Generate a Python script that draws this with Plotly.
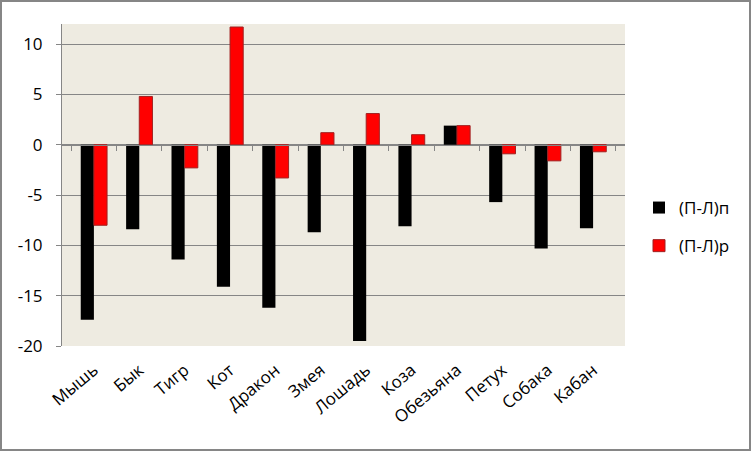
import plotly.graph_objects as go

categories = ["Мышь", "Бык", "Тигр", "Кот", "Дракон", "Змея", "Лошадь",
              "Коза", "Обезьяна", "Петух", "Собака", "Кабан"]
series_p = [-17.4, -8.4, -11.4, -14.1, -16.2, -8.7, -19.5, -8.1, 1.9, -5.7, -10.3, -8.3]
series_r = [-8.0, 4.8, -2.3, 11.7, -3.3, 1.2, 3.1, 1.0, 1.9, -0.9, -1.6, -0.7]
name_p = "(П-Л)п"
name_r = "(П-Л)р"
y_ticks = [-20, -15, -10, -5, 0, 5, 10]
y_ticktext = ["-20", "-15", "-10", "-5", "0", "5", "10"]

W, H = 752, 452
ml, mr, mt, mb = 62, 127, 24, 106
pw, ph = W - ml - mr, H - mt - mb
ymin, ymax = -20, 12

font = "Open Sans, DejaVu Sans, sans-serif"

fig = go.Figure()
fig.add_trace(go.Bar(x=categories, y=series_p, name=name_p, legendgroup="p",
                     marker=dict(color="#000000", line=dict(width=0))))
fig.add_trace(go.Bar(x=categories, y=series_r, name=name_r, legendgroup="r",
                     marker=dict(color="#FF0000", line=dict(color="#A02020", width=1))))
# invisible trace to render the category tick axis at y=0
fig.add_trace(go.Scatter(x=categories, y=[0]*len(categories), xaxis="x2",
                         mode="markers", marker=dict(opacity=0), showlegend=False,
                         hoverinfo="skip"))

fig.update_layout(
    width=W, height=H,
    margin=dict(l=ml, r=mr, t=mt, b=mb, autoexpand=False),
    paper_bgcolor="white",
    plot_bgcolor="#EEEBE1",
    barmode="group",
    bargap=0.42,
    bargroupgap=0,
    font=dict(family=font, size=16, color="#000000"),
    showlegend=True,
    legend=dict(x=(639 - ml) / pw, y=(H - mb - 227) / ph, xanchor="left", yanchor="middle",
                font=dict(size=17), bgcolor="rgba(0,0,0,0)", traceorder="grouped",
                tracegroupgap=13),
    xaxis=dict(type="category", categoryorder="array", categoryarray=categories,
               tickangle=-40, showgrid=False, zeroline=False, showline=False,
               ticks="", tickfont=dict(size=17), ticklabelstandoff=10),
    xaxis2=dict(type="category", matches="x", overlaying="x", anchor="free",
                position=(0 - ymin) / (ymax - ymin), side="bottom",
                showticklabels=False, ticks="outside", ticklen=5, tickcolor="#868686",
                tickson="boundaries", showline=True, linecolor="#868686", linewidth=1,
                showgrid=False, zeroline=False),
    yaxis=dict(range=[ymin, ymax], tickvals=y_ticks, ticktext=y_ticktext, showgrid=True,
               gridcolor="#868686", gridwidth=1, zeroline=True, zerolinecolor="#868686",
               zerolinewidth=1, showline=True, linecolor="#868686", linewidth=1,
               ticks="outside", ticklen=5, tickcolor="#868686",
               tickfont=dict(size=17), ticklabelstandoff=10),
    shapes=[dict(type="rect", xref="paper", yref="paper",
                 x0=(1 - ml) / pw, x1=(W - 2 - ml) / pw,
                 y0=(H - mb - (H - 2)) / ph, y1=(H - mb - 1) / ph,
                 line=dict(color="#868686", width=2), fillcolor="rgba(0,0,0,0)",
                 layer="above")],
)

fig.write_html("out.html", config={"displayModeBar": False},
               post_script="document.body.style.margin='0';")
